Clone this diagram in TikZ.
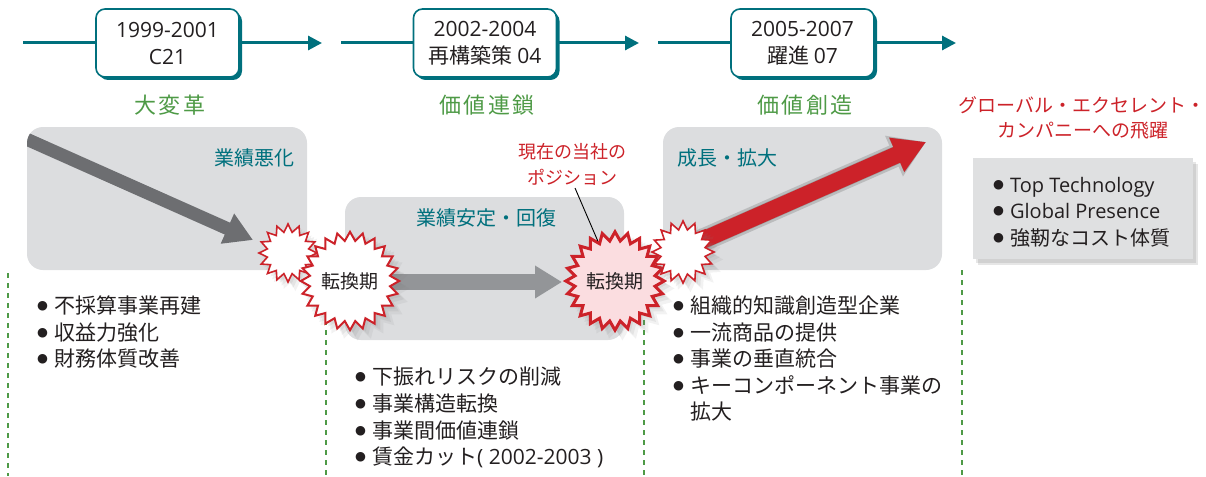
\documentclass[tikz,border=0pt]{standalone}
\usepackage{fontspec}
\setmainfont{Noto Sans CJK JP}
\newfontfamily\lat{Open Sans}
\newfontfamily\dv{DejaVu Sans}
\newfontfamily\ttlfont[LetterSpace=12]{Noto Sans CJK JP}
\usetikzlibrary{shapes.geometric,shadows,arrows.meta}
\definecolor{teal1}{RGB}{0,112,125}
\definecolor{grn}{RGB}{78,154,70}
\definecolor{redd}{RGB}{204,34,41}
\definecolor{panel}{RGB}{220,221,223}
\definecolor{panelb}{RGB}{223,224,225}
\definecolor{darkar}{RGB}{109,110,113}
\definecolor{midar}{RGB}{147,149,152}
\definecolor{pinkf}{RGB}{251,221,224}
\definecolor{txt}{RGB}{35,31,32}
\newcommand\bul{\raisebox{3.2pt}{\dv\fontsize{12.5}{12.5}\selectfont ●}\hspace{6pt}}
\begin{document}
\begin{tikzpicture}[x=1pt,y=-1pt,
  datebox/.style={draw=teal1, line width=1.6pt, fill=white, rounded corners=9pt,
    minimum width=143pt, minimum height=68pt, inner sep=0pt, align=center,
    font=\fontsize{21}{27}\selectfont, text=txt,
    drop shadow={fill=teal1, opacity=1, shadow xshift=3pt, shadow yshift=-3pt}},
  tl/.style={teal1, line width=3pt},
  tlarrow/.style={tl, -{Triangle[length=14pt,width=14pt]}},
  ttl/.style={font=\ttlfont\fontsize{22}{26}\selectfont, text=grn, inner sep=0pt},
  plabel/.style={font=\fontsize{20}{24}\selectfont, text=teal1, inner sep=0pt},
  gdash/.style={grn, line width=2pt, dash pattern=on 5pt off 5pt},
  item/.style={anchor=base west, inner sep=0pt, font=\fontsize{21}{25}\selectfont, text=txt},
  bitem/.style={anchor=base west, inner sep=0pt, font=\fontsize{20}{24}\selectfont, text=txt},
  softshadow/.style={
    drop shadow={opacity=.12, shadow xshift=3pt, shadow yshift=-3pt},
    drop shadow={opacity=.12, shadow xshift=5pt, shadow yshift=-5pt, shadow scale=1.03},
    drop shadow={opacity=.10, shadow xshift=7pt, shadow yshift=-7pt, shadow scale=1.06}},
  smallstar/.style={star, star points=16, star point ratio=1.38, draw=redd, line width=1.6pt,
    fill=white, inner sep=0pt, softshadow},
  bigstar/.style={star, star points=24, star point ratio=1.22, draw=redd, line width=2pt,
    fill=white, inner sep=0pt, text=txt, font=\fontsize{19}{22}\selectfont, softshadow},
  redtxt/.style={text=redd, inner sep=0pt}
]
\useasboundingbox (0,0) rectangle (1206,476);

% panels
\fill[panel, rounded corners=16pt] (27,127) rectangle (307,270);
\fill[panel, rounded corners=16pt] (345,197) rectangle (624,340);
\fill[panel, rounded corners=16pt] (663,127) rectangle (942,270);
\fill[panelb, drop shadow={opacity=.2, shadow xshift=3pt, shadow yshift=-4pt},
  drop shadow={opacity=.2, shadow xshift=5pt, shadow yshift=-6pt}] (973,158) rectangle (1193,259);

% dashed separators
\draw[gdash] (8,273) -- (8,476);
\draw[gdash] (326,270) -- (326,476);
\draw[gdash] (644,270) -- (644,476);
\draw[gdash] (962,270) -- (962,476);

% timeline
\node[datebox] (b1) at (167.5,43) {{\lat 1999-2001}\\{\lat C21}};
\node[datebox] (b2) at (485,43) {{\lat 2002-2004}\\再構築策 {\lat 04}};
\node[datebox] (b3) at (802.5,43) {{\lat 2005-2007}\\躍進 {\lat 07}};
\coordinate (t1s) at (23,43);  \coordinate (t1e) at (322,43);
\coordinate (t2s) at (341,43); \coordinate (t2e) at (639,43);
\coordinate (t3s) at (658,43); \coordinate (t3e) at (956,43);
\draw[tl] (t1s) -- (b1.west); \draw[tlarrow] (b1.east) -- (t1e);
\draw[tl] (t2s) -- (b2.west); \draw[tlarrow] (b2.east) -- (t2e);
\draw[tl] (t3s) -- (b3.west); \draw[tlarrow] (b3.east) -- (t3e);

% titles
\node[ttl] (h1) at (170,105) {大変革};
\node[ttl] (h2) at (487,105) {価値連鎖};
\node[ttl] (h3) at (805,105) {価値創造};
\node[redtxt, font=\fontsize{19}{26}\selectfont] (h4a) at (1082,105) {グローバル・エクセレント・};
\node[redtxt, font=\fontsize{19}{26}\selectfont] (h4b) at (1083,131) {カンパニーへの飛躍};

% panel labels
\node[plabel, anchor=east] (p1) at (295,158) {業績悪化};
\node[plabel] (p2) at (486,218) {業績安定・回復};
\node[plabel, anchor=west] (p3) at (677,158) {成長・拡大};

% dark arrow (clipped by panel 1)
\begin{scope}
\clip[rounded corners=16pt] (27,127) rectangle (307,270);
\coordinate (da1) at (15,134); \coordinate (da2) at (253,240);
\draw[darkar, line width=13pt, -{Triangle[length=28pt,width=31pt]}] (da1) -- (da2);
\end{scope}

% middle arrow
\coordinate (ma1) at (380,282); \coordinate (ma2) at (562,282);
\draw[midar, line width=16pt, -{Triangle[length=27pt,width=31pt]}] (ma1) -- (ma2);

% stars (left)
\node[smallstar, minimum size=58pt] (sA) at (288,253) {};
\node[bigstar, minimum size=92pt] (sB) at (350,281) {転換期};
\node[bigstar, fill=pinkf, line width=3pt, minimum size=94pt] (sC) at (615,281) {転換期};

% red arrow with shadow
\coordinate (ra1) at (685,248); \coordinate (ra2) at (926,142);
\begin{scope}[transparency group, opacity=.15, shift={(4pt,-7pt)}]
\draw[black, line width=23pt, -{Triangle[length=35pt,width=42pt]}] (ra1) -- (ra2);
\end{scope}
\begin{scope}[transparency group, opacity=.18, shift={(2pt,-4pt)}]
\draw[black, line width=18pt, -{Triangle[length=32pt,width=36pt]}] (ra1) -- (ra2);
\end{scope}
\draw[redd, line width=17pt, -{Triangle[length=32pt,width=35pt]}] (ra1) -- (ra2);

\node[smallstar, minimum size=62pt] (sD) at (683,252) {};

% callout
\node[redtxt, font=\fontsize{18}{22}\selectfont] (c1) at (572,152) {現在の当社の};
\node[redtxt, font=\fontsize{18}{22}\selectfont] (c2) at (572,177) {ポジション};
\coordinate (cs) at (575,188);
\draw[black, line width=0.9pt] (cs) -- (sC);

% bullet lists
\node[item] (l1) at (37,313) {\bul 不採算事業再建};
\node[item] (l2) at (37,340) {\bul 収益力強化};
\node[item] (l3) at (37,366) {\bul 財務体質改善};

\node[item] (m1) at (355,384) {\bul 下振れリスクの削減};
\node[item] (m2) at (355,411) {\bul 事業構造転換};
\node[item] (m3) at (355,438) {\bul 事業間価値連鎖};
\node[item] (m4) at (355,464) {\bul 賃金カット{\lat ( 2002-2003 )}};

\node[item] (r1) at (673,313) {\bul 組織的知識創造型企業};
\node[item] (r2) at (673,340) {\bul 一流商品の提供};
\node[item] (r3) at (673,366) {\bul 事業の垂直統合};
\node[item] (r4) at (673,393) {\bul キーコンポーネント事業の};
\node[item] (r5) at (673,419) {\phantom{\bul}拡大};

\node[bitem] (g1) at (993,192) {\bul{\lat Top Technology}};
\node[bitem] (g2) at (993,218) {\bul{\lat Global Presence}};
\node[bitem] (g3) at (993,245) {\bul 強靭なコスト体質};
\end{tikzpicture}
\end{document}
